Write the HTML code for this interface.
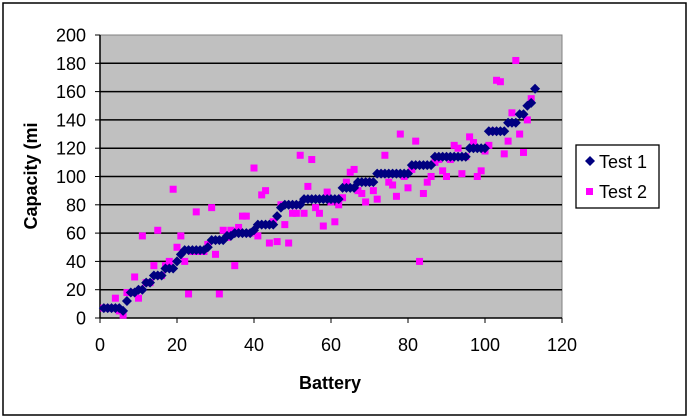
<!DOCTYPE html>
<html><head><meta charset="utf-8"><style>
html,body{margin:0;padding:0;background:#fff;width:690px;height:419px;overflow:hidden}
svg{display:block;font-family:"Liberation Sans",Arial,sans-serif}
</style></head><body>
<svg id="chart" width="690" height="419">
<rect x="3" y="3" width="683" height="412" fill="#fff" stroke="#000" stroke-width="1.5"/>
<g id="plot"></g>
</svg>
<script>
const t1Values=[7,7,7,7,7,5,12,18,18,20,20,25,25,30,30,30,35,35,35,40,45,48,48,48,48,48,48,50,55,55,55,55,58,58,60,60,60,60,60,62,66,66,66,66,66,72,78,80,80,80,80,80,84,84,84,84,84,84,84,84,84,84,92,92,92,92,96,96,96,96,96,102,102,102,102,102,102,102,102,102,108,108,108,108,108,108,114,114,114,114,114,114,114,114,114,120,120,120,120,120,132,132,132,132,132,138,138,138,144,144,150,152,162];
const t2X=[1,2,3,4,4,5,6,7,8,9,10,11,12,13,14,15,16,17,18,19,20,21,22,23,24,25,26,27,28,29,30,31,32,33,34,35,36,37,38,39,40,41,42,43,44,45,46,47,48,49,50,51,52,53,54,55,56,57,58,59,60,61,62,63,64,65,66,67,68,69,70,71,72,73,74,75,76,77,78,79,80,81,82,83,84,85,86,87,88,89,90,91,92,93,94,95,96,97,98,99,100,101,102,103,104,105,106,107,108,109,110,111,112];
const t2Y=[7,7,7,14,7,5,2,18,18,29,14,58,25,25,37,62,30,37,40,91,50,58,40,17,47,75,47,47,52,78,45,17,62,57,62,37,64,72,72,60,106,58,87,90,53,68,54,80,66,53,74,74,115,74,93,112,78,74,65,89,82,68,80,85,96,103,105,90,88,82,96,90,84,102,115,96,94,86,130,100,92,105,125,40,88,96,100,110,112,104,100,112,122,120,102,114,128,124,100,104,118,122,132,168,167,116,125,145,182,130,117,140,155];
const xTicks=[0,20,40,60,80,100,120];
const yTicks=[0,20,40,60,80,100,120,140,160,180,200];
const L=100,R=562,T=35,B=318;
const xs=v=>L+(v/120)*(R-L);
const ys=v=>B-(v/200)*(B-T);
const NS="http://www.w3.org/2000/svg";
const g=document.getElementById('plot');
function mk(tag,a,p){const e=document.createElementNS(NS,tag);for(const k in a)e.setAttribute(k,a[k]);(p||g).appendChild(e);return e;}
const bg=mk('rect',{x:L,y:T,width:R-L,height:B-T,fill:'#c0c0c0',stroke:'#808080','stroke-width':1});


yTicks.forEach(v=>{
  if(v>0&&v<200){const gl=mk('line',{x1:L,x2:R,y1:ys(v),y2:ys(v),stroke:'#000','stroke-width':1.5});
  
  }
  mk('line',{x1:L-5,x2:L,y1:ys(v),y2:ys(v),stroke:'#000'});
  const t=mk('text',{x:L-14,y:ys(v)+6.5,'text-anchor':'end','font-size':18,fill:'#000'});t.textContent=v;
  
  
});
mk('line',{x1:L,x2:L,y1:T,y2:B,stroke:'#000','stroke-width':1.5});
mk('line',{x1:L,x2:R,y1:B,y2:B,stroke:'#000','stroke-width':1.5});
xTicks.forEach(v=>{
  mk('line',{x1:xs(v),x2:xs(v),y1:B,y2:B+5,stroke:'#000'});
  const t=mk('text',{x:xs(v),y:B+33,'text-anchor':'middle','font-size':18,fill:'#000'});t.textContent=v;
  
  
});
const xt=mk('text',{x:330,y:389,'text-anchor':'middle','font-size':18,'font-weight':'bold'});xt.textContent='Battery';


const yt=mk('text',{x:0,y:0,'text-anchor':'middle','font-size':18,'font-weight':'bold',transform:'translate(37,176) rotate(-90)'});yt.textContent='Capacity (mi';


t2X.forEach((x,i)=>{
  const r=mk('rect',{x:xs(x)-3.5,y:ys(t2Y[i])-3.5,width:7,height:7,fill:'#ff00ff'});
  
  
});
t1Values.forEach((v,i)=>{
  const cx=xs(i+1),cy=ys(v);
  const p=mk('polygon',{points:`${cx},${cy-5} ${cx+5},${cy} ${cx},${cy+5} ${cx-5},${cy}`,fill:'#000080'});
  
  
});
const lg=mk('g',{});


mk('rect',{x:576,y:145,width:83,height:63,fill:'#fff',stroke:'#000','stroke-width':1.3},lg);
mk('polygon',{points:'590,156 595,161 590,166 585,161',fill:'#000080'},lg);
const l1=mk('text',{x:599,y:168,'font-size':18},lg);l1.textContent='Test 1';


mk('rect',{x:586,y:188,width:7,height:7,fill:'#ff00ff'},lg);
const l2=mk('text',{x:599,y:198,'font-size':18},lg);l2.textContent='Test 2';


</script>
</body></html>
